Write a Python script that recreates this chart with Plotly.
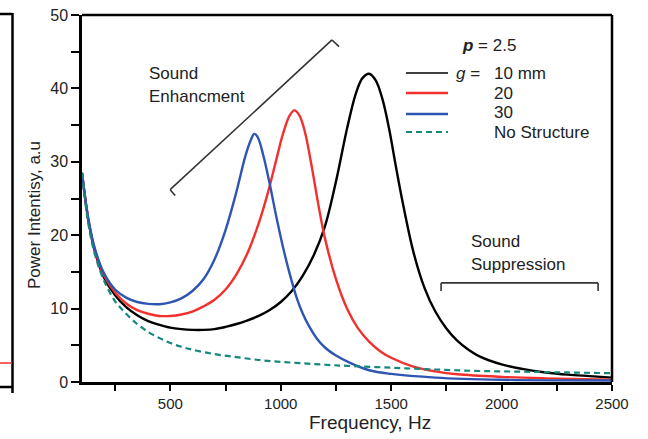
import plotly.graph_objects as go

# ---------------- data ----------------
f_g10 = [100, 130, 160, 200, 250, 300, 350, 400, 450, 500, 550, 600, 650, 700, 750, 800, 850,
         900, 950, 1000, 1050, 1100, 1150, 1200, 1250, 1300, 1340, 1370, 1400, 1430, 1460, 1490,
         1520, 1550, 1600, 1650, 1700, 1750, 1800, 1850, 1900, 2000, 2100, 2200, 2300, 2400, 2500]
v_g10 = [28.5, 21.8, 17.6, 14.2, 11.8, 10.2, 9.1, 8.3, 7.8, 7.4, 7.2, 7.1, 7.1, 7.2, 7.5, 7.9, 8.4,
         9.0, 9.8, 10.9, 12.4, 14.5, 17.3, 21.2, 27.3, 34.5, 39.3, 41.4, 42.0, 41.1, 38.6, 34.6,
         29.6, 24.8, 17.8, 12.9, 9.6, 7.3, 5.6, 4.4, 3.5, 2.4, 1.75, 1.3, 1.0, 0.8, 0.6]

f_g20 = [100, 130, 160, 200, 250, 300, 350, 400, 450, 500, 550, 600, 650, 700, 750, 800, 850,
         900, 940, 980, 1010, 1040, 1062, 1085, 1110, 1140, 1170, 1200, 1250, 1300, 1350, 1400,
         1450, 1500, 1600, 1700, 1800, 2000, 2200, 2500]
v_g20 = [28.5, 21.9, 17.8, 14.5, 12.2, 10.7, 9.8, 9.3, 9.0, 9.0, 9.2, 9.6, 10.3, 11.2, 12.6, 14.7, 17.6,
         21.6, 25.6, 30.3, 33.8, 36.3, 37.0, 36.3, 34.0, 29.4, 24.2, 19.6, 14.0, 10.0, 7.3, 5.5,
         4.2, 3.3, 2.1, 1.45, 1.05, 0.7, 0.5, 0.3]

f_g30 = [100, 130, 160, 200, 250, 300, 350, 400, 450, 500, 550, 600, 650, 700, 750, 800, 840,
         865, 880, 895, 920, 950, 980, 1010, 1040, 1073, 1100, 1130, 1164, 1200, 1250, 1314, 1400,
         1500, 1700, 2000, 2500]
v_g30 = [28.5, 22.0, 18.0, 14.8, 12.6, 11.5, 10.9, 10.65, 10.6, 10.85, 11.4, 12.4, 14.0, 16.7, 20.7, 26.0, 30.8,
         33.0, 33.8, 33.4, 31.0, 27.0, 22.5, 18.4, 14.8, 11.4, 9.3, 7.5, 5.9, 4.7, 3.6, 2.6, 1.6,
         1.1, 0.6, 0.3, 0.2]

f_none = [100, 130, 160, 200, 250, 300, 350, 400, 450, 500, 550, 600, 700, 800, 900, 1000,
          1100, 1200, 1300, 1500, 1700, 1900, 2100, 2300, 2500]
v_none = [28.5, 21.3, 17.2, 13.8, 11.0, 9.3, 7.9, 6.8, 6.0, 5.3, 4.8, 4.4, 3.8, 3.4, 3.0, 2.75,
          2.55, 2.35, 2.2, 1.95, 1.7, 1.5, 1.4, 1.3, 1.2]

x_tickvals = [250, 500, 750, 1000, 1250, 1500, 1750, 2000, 2250, 2500]
x_ticktext = ["", "500", "", "1000", "", "1500", "", "2000", "", "2500"]
y_tickvals = [0, 5, 10, 15, 20, 25, 30, 35, 40, 45, 50]
y_ticktext = ["0", "", "10", "", "20", "", "30", "", "40", "", "50"]

legend_labels = ["10 mm", "20", "30", "No Structure"]

# ---------------- styling ----------------
C_BLACK = "#000000"
C_RED = "#f2302e"
C_BLUE = "#2d56b3"
C_TEAL = "#15877c"
FONT = "Liberation Sans, Arial, sans-serif"
TXT = "#222222"

W, H = 648, 439
L, R, T, B = 82, 612, 15, 382  # plot area in pixels


def px(x):
    return (x - L) / (R - L)


def py(y):
    return (B - y) / (B - T)


fig = go.Figure()
series = [(f_g10, v_g10, C_BLACK, "solid", 2.4), (f_g20, v_g20, C_RED, "solid", 2.4),
          (f_g30, v_g30, C_BLUE, "solid", 2.4), (f_none, v_none, C_TEAL, "6px,4px", 2.2)]
for (xs, ys, col, dash, w), name in zip(series, legend_labels):
    fig.add_trace(go.Scatter(x=xs, y=ys, mode="lines", name=name,
                             line=dict(color=col, width=w, dash=dash, shape="spline", smoothing=1.0),
                             showlegend=False))

shapes = []
# plot frame (top and right)
shapes.append(dict(type="line", xref="paper", yref="paper", x0=0, x1=1, y0=1, y1=1,
                   line=dict(color="black", width=2.5)))
shapes.append(dict(type="line", xref="paper", yref="paper", x0=1, x1=1, y0=0, y1=1,
                   line=dict(color="black", width=2.5)))

# Sound enhancement bracket (data coordinates)
br = dict(color="#333333", width=1.6)
shapes.append(dict(type="line", xref="x", yref="y", x0=499, y0=26.2, x1=1232, y1=46.6, line=br))
shapes.append(dict(type="line", xref="x", yref="y", x0=499, y0=26.2, x1=522, y1=25.4, line=br))
shapes.append(dict(type="line", xref="x", yref="y", x0=1232, y0=46.6, x1=1264, y1=45.7, line=br))
# Sound suppression bracket
shapes.append(dict(type="line", xref="x", yref="y", x0=1726, y0=13.5, x1=2437, y1=13.5, line=br))
shapes.append(dict(type="line", xref="x", yref="y", x0=1726, y0=13.5, x1=1726, y1=12.4, line=br))
shapes.append(dict(type="line", xref="x", yref="y", x0=2437, y0=13.5, x1=2437, y1=12.4, line=br))

# legend samples
leg_y = [73, 93, 114, 132]
leg_col = [C_BLACK, C_RED, C_BLUE, C_TEAL]
leg_dash = ["solid", "solid", "solid", "6px,4px"]
leg_w = [1.5, 2.3, 2.3, 2.0]
for yy, col, d, w in zip(leg_y, leg_col, leg_dash, leg_w):
    shapes.append(dict(type="line", xref="paper", yref="paper", x0=px(406), x1=px(448),
                       y0=py(yy), y1=py(yy), line=dict(color=col, width=w, dash=d)))

# fragment of neighbouring panel at far left
shapes.append(dict(type="line", xref="paper", yref="paper", x0=px(12.5), x1=px(12.5),
                   y0=py(393), y1=py(13), line=dict(color="black", width=2.5)))
shapes.append(dict(type="line", xref="paper", yref="paper", x0=px(-2), x1=px(12.5),
                   y0=py(14), y1=py(14), line=dict(color="black", width=2.5)))
shapes.append(dict(type="line", xref="paper", yref="paper", x0=px(-2), x1=px(12.5),
                   y0=py(387), y1=py(387), line=dict(color="black", width=2.5)))
shapes.append(dict(type="line", xref="paper", yref="paper", x0=px(-2), x1=px(12),
                   y0=py(363), y1=py(363), line=dict(color=C_RED, width=1.5)))

ann = []


def text(x, y, s, size=17, xanchor="left", angle=0):
    ann.append(dict(xref="paper", yref="paper", x=px(x), y=py(y), text=s, showarrow=False,
                    xanchor=xanchor, yanchor="middle", textangle=angle,
                    font=dict(family=FONT, size=size, color=TXT)))


text(147, 73, "Sound")
text(147, 97, "Enhancment")
text(469, 242, "Sound")
text(469, 264, "Suppression")
text(460, 45, "<b><i>p</i></b> = 2.5")
text(454, 73, "<i>g</i> =")
text(492, 73, legend_labels[0])
text(492, 93, legend_labels[1])
text(492, 113, legend_labels[2])
text(492, 132, legend_labels[3])
text(370, 422, "Frequency, Hz", size=19, xanchor="center")
text(34, 215, "Power Intentisy, a.u", size=17, xanchor="center", angle=-90)

fig.update_layout(
    width=W, height=H,
    margin=dict(l=L, r=W - R, t=T, b=H - B, pad=0),
    paper_bgcolor="white", plot_bgcolor="white",
    font=dict(family=FONT, size=14, color=TXT),
    shapes=shapes, annotations=ann,
    showlegend=False,
)
fig.update_xaxes(range=[100, 2500], tickmode="array", tickvals=x_tickvals, ticktext=x_ticktext,
                 ticks="outside", ticklen=6, tickwidth=2, tickcolor="black", automargin=False,
                 showline=True, linecolor="black", linewidth=2.5, showgrid=False, zeroline=False,
                 tickfont=dict(size=15, family=FONT, color=TXT))
fig.update_yaxes(range=[0, 50], tickmode="array", tickvals=y_tickvals, ticktext=y_ticktext,
                 ticks="outside", ticklen=8, tickwidth=2, tickcolor="black", automargin=False,
                 showline=True, linecolor="black", linewidth=2.5, showgrid=False, zeroline=False,
                 tickfont=dict(size=16, family=FONT, color=TXT))

fig.write_html("out.html", config={"displayModeBar": False},
               post_script="document.body.style.margin='0';")
